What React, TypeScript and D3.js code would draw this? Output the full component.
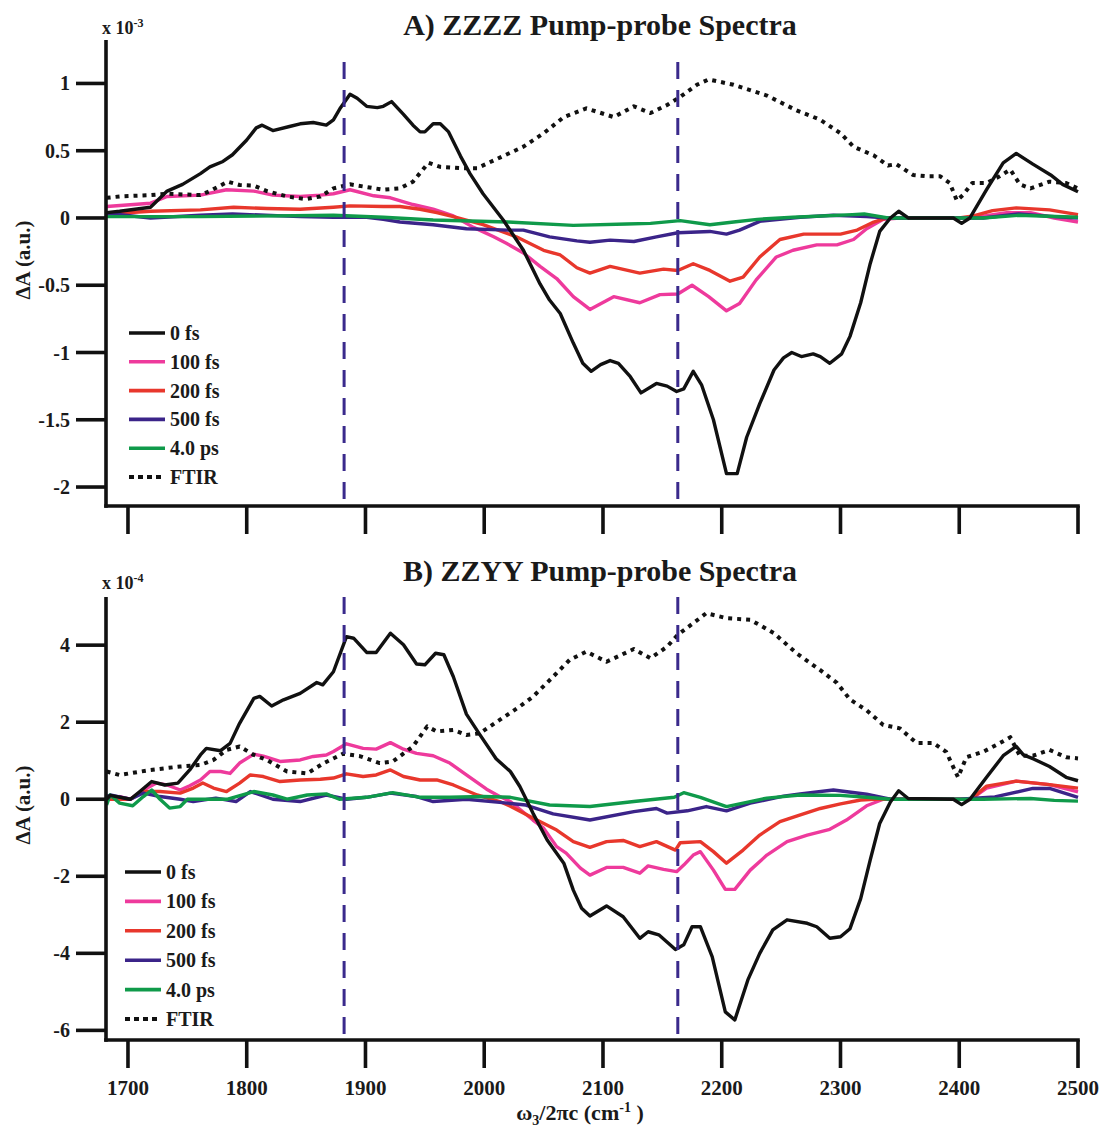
import React from 'react';
import * as d3 from 'd3';

type Pt = [number, number];

// ---- axis ticks and labels ----
const wavenumberTicks = [1700, 1800, 1900, 2000, 2100, 2200, 2300, 2400, 2500];
const zzzzTicks = [1, 0.5, 0, -0.5, -1, -1.5, -2];
const zzyyTicks = [4, 2, 0, -2, -4, -6];
const delayLabels = ['0 fs', '100 fs', '200 fs', '500 fs', '4.0 ps', 'FTIR'];
const seriesColors = ['#111111', '#ee3a9c', '#e8372c', '#3b2489', '#0f9a4a', '#111111'];
const markerFrequencies = [1882, 2163];

// ---- A) ZZZZ, units of 1e-3 ----
const zzzz0fs: Pt[] = [
  [1682, 0.04], [1693, 0.05], [1719, 0.08], [1733, 0.2], [1746, 0.25], [1761, 0.33], [1769, 0.38],
  [1780, 0.42], [1788, 0.47], [1800, 0.58], [1808, 0.67], [1813, 0.69], [1822, 0.65], [1836, 0.68],
  [1845, 0.7], [1856, 0.71], [1867, 0.69], [1873, 0.73], [1879, 0.82], [1887, 0.92], [1893, 0.89],
  [1901, 0.83], [1910, 0.82], [1915, 0.83], [1922, 0.865], [1932, 0.77], [1940, 0.69], [1946, 0.64],
  [1950, 0.64], [1957, 0.7], [1963, 0.7], [1970, 0.64], [1980, 0.46], [1988, 0.33], [1999, 0.18],
  [2016, -0.015], [2033, -0.24], [2047, -0.49], [2055, -0.61], [2064, -0.71], [2075, -0.93],
  [2083, -1.08], [2090, -1.14], [2098, -1.09], [2106, -1.06], [2113, -1.08], [2123, -1.18],
  [2132, -1.3], [2145, -1.23], [2154, -1.25], [2162, -1.29], [2168, -1.27], [2176, -1.14],
  [2183, -1.24], [2193, -1.5], [2204, -1.9], [2213, -1.9], [2221, -1.63], [2232, -1.38],
  [2244, -1.13], [2252, -1.04], [2259, -1.0], [2267, -1.03], [2277, -1.01], [2283, -1.03],
  [2291, -1.08], [2301, -1.01], [2308, -0.88], [2317, -0.63], [2325, -0.34], [2333, -0.1],
  [2342, 0.0], [2349, 0.05], [2357, 0.0], [2395, 0.0], [2402, -0.04], [2409, 0.0], [2423, 0.21],
  [2437, 0.41], [2448, 0.48], [2462, 0.4], [2477, 0.32], [2487, 0.25], [2500, 0.195],
];
const zzzz100fs: Pt[] = [
  [1682, 0.085], [1719, 0.11], [1733, 0.16], [1761, 0.17], [1783, 0.21], [1806, 0.2], [1822, 0.17],
  [1845, 0.16], [1862, 0.17], [1873, 0.18], [1887, 0.21], [1907, 0.165], [1921, 0.15], [1940, 0.1],
  [1957, 0.065], [1974, 0.015], [1991, -0.07], [2008, -0.14], [2019, -0.19], [2033, -0.26],
  [2047, -0.36], [2061, -0.45], [2075, -0.585], [2089, -0.68], [2109, -0.585], [2131, -0.63],
  [2148, -0.57], [2163, -0.565], [2175, -0.5], [2189, -0.585], [2204, -0.69], [2215, -0.635],
  [2229, -0.46], [2246, -0.29], [2260, -0.24], [2280, -0.2], [2297, -0.2], [2311, -0.16],
  [2322, -0.08], [2336, -0.01], [2350, 0.0], [2410, 0.0], [2440, 0.04], [2460, 0.04], [2480, 0.0],
  [2500, -0.03],
];
const zzzz200fs: Pt[] = [
  [1682, 0.03], [1719, 0.05], [1761, 0.06], [1789, 0.08], [1817, 0.07], [1845, 0.065], [1873, 0.08],
  [1887, 0.09], [1915, 0.085], [1929, 0.085], [1946, 0.065], [1960, 0.04], [1974, 0.01],
  [1999, -0.05], [2027, -0.14], [2050, -0.24], [2064, -0.275], [2078, -0.37], [2089, -0.41],
  [2106, -0.36], [2131, -0.41], [2151, -0.38], [2163, -0.39], [2176, -0.34], [2190, -0.39],
  [2207, -0.47], [2218, -0.44], [2232, -0.29], [2249, -0.16], [2269, -0.12], [2283, -0.12],
  [2300, -0.12], [2314, -0.09], [2328, -0.03], [2339, 0.0], [2400, 0.0], [2412, 0.015],
  [2428, 0.055], [2448, 0.075], [2476, 0.06], [2500, 0.025],
];
const zzzz500fs: Pt[] = [
  [1682, 0.035], [1719, 0.0], [1761, 0.02], [1788, 0.03], [1845, 0.01], [1873, 0.005], [1901, 0.005],
  [1915, -0.01], [1929, -0.03], [1957, -0.05], [1985, -0.08], [2020, -0.09], [2033, -0.09],
  [2055, -0.14], [2078, -0.17], [2089, -0.18], [2106, -0.165], [2126, -0.175], [2145, -0.14],
  [2163, -0.11], [2190, -0.1], [2204, -0.12], [2215, -0.09], [2232, -0.025], [2266, 0.005],
  [2294, 0.02], [2322, 0.01], [2340, 0.0], [2420, 0.0], [2450, 0.03], [2480, 0.01], [2500, 0.0],
];
const zzzz4ps: Pt[] = [
  [1682, 0.01], [1761, 0.01], [1873, 0.02], [1915, 0.005], [1957, -0.015], [2020, -0.03],
  [2075, -0.055], [2120, -0.045], [2140, -0.04], [2165, -0.02], [2190, -0.05], [2210, -0.03],
  [2230, -0.01], [2260, 0.005], [2310, 0.025], [2320, 0.03], [2340, 0.0], [2420, 0.0],
  [2450, 0.02], [2500, 0.005],
];
const zzzzFtir: Pt[] = [
  [1682, 0.15], [1693, 0.16], [1719, 0.17], [1733, 0.18], [1761, 0.17], [1769, 0.2], [1784, 0.27],
  [1794, 0.245], [1806, 0.24], [1817, 0.2], [1834, 0.16], [1850, 0.14], [1862, 0.16], [1873, 0.22],
  [1887, 0.25], [1901, 0.23], [1915, 0.21], [1929, 0.22], [1940, 0.27], [1953, 0.41], [1963, 0.38],
  [1980, 0.37], [1994, 0.37], [2011, 0.44], [2033, 0.53], [2050, 0.63], [2067, 0.75], [2086, 0.815],
  [2109, 0.75], [2126, 0.83], [2140, 0.78], [2154, 0.84], [2165, 0.9], [2179, 0.99], [2189, 1.03],
  [2210, 0.99], [2238, 0.91], [2263, 0.8], [2283, 0.73], [2300, 0.63], [2311, 0.53], [2328, 0.465],
  [2340, 0.39], [2347, 0.4], [2361, 0.32], [2373, 0.31], [2384, 0.31], [2392, 0.26], [2398, 0.13],
  [2403, 0.17], [2411, 0.26], [2423, 0.26], [2434, 0.31], [2443, 0.36], [2451, 0.25], [2460, 0.22],
  [2476, 0.27], [2490, 0.26], [2500, 0.22],
];

// ---- B) ZZYY, units of 1e-4 ----
const zzyy0fs: Pt[] = [
  [1682, 0.0], [1685, 0.1], [1702, 0.0], [1710, 0.2], [1720, 0.46], [1731, 0.37], [1742, 0.42],
  [1752, 0.76], [1761, 1.15], [1766, 1.32], [1778, 1.26], [1786, 1.45], [1794, 1.97], [1806, 2.62],
  [1811, 2.67], [1821, 2.42], [1831, 2.58], [1845, 2.75], [1859, 3.03], [1864, 2.97], [1873, 3.31],
  [1884, 4.22], [1890, 4.18], [1901, 3.81], [1909, 3.81], [1921, 4.31], [1932, 4.01], [1943, 3.51],
  [1950, 3.49], [1959, 3.79], [1966, 3.75], [1974, 3.18], [1985, 2.21], [1996, 1.69], [2010, 1.05],
  [2022, 0.72], [2030, 0.33], [2041, -0.36], [2053, -1.06], [2067, -1.66], [2075, -2.36],
  [2082, -2.83], [2089, -3.03], [2103, -2.77], [2117, -3.05], [2131, -3.61], [2138, -3.44],
  [2147, -3.52], [2161, -3.9], [2168, -3.78], [2175, -3.31], [2182, -3.31], [2192, -4.09],
  [2203, -5.52], [2211, -5.73], [2222, -4.69], [2232, -4.0], [2243, -3.39], [2255, -3.13],
  [2272, -3.22], [2280, -3.31], [2291, -3.61], [2300, -3.57], [2308, -3.36], [2317, -2.58],
  [2325, -1.58], [2333, -0.63], [2342, -0.07], [2349, 0.22], [2357, 0.02], [2395, 0.0],
  [2402, -0.14], [2409, 0.0], [2423, 0.57], [2437, 1.13], [2448, 1.37], [2454, 1.15], [2463, 1.04],
  [2476, 0.85], [2490, 0.57], [2500, 0.48],
];
const zzyy100fs: Pt[] = [
  [1682, 0.0], [1693, 0.07], [1702, 0.0], [1713, 0.24], [1724, 0.42], [1733, 0.37], [1744, 0.24],
  [1752, 0.35], [1761, 0.5], [1769, 0.72], [1778, 0.72], [1786, 0.67], [1794, 0.94], [1806, 1.17],
  [1814, 1.12], [1828, 0.98], [1845, 1.02], [1856, 1.11], [1867, 1.15], [1873, 1.24], [1884, 1.44],
  [1898, 1.32], [1909, 1.3], [1921, 1.47], [1932, 1.3], [1943, 1.19], [1957, 1.13], [1971, 0.94],
  [1985, 0.63], [2002, 0.26], [2013, 0.07], [2022, -0.06], [2041, -0.54], [2050, -0.75],
  [2061, -1.23], [2069, -1.4], [2081, -1.79], [2089, -1.97], [2103, -1.77], [2117, -1.77],
  [2131, -1.92], [2138, -1.73], [2151, -1.82], [2162, -1.88], [2168, -1.71], [2176, -1.45],
  [2182, -1.36], [2193, -1.84], [2203, -2.34], [2211, -2.34], [2224, -1.84], [2238, -1.45],
  [2255, -1.1], [2272, -0.93], [2291, -0.78], [2305, -0.54], [2322, -0.17], [2336, 0.0],
  [2410, 0.0], [2423, 0.29], [2448, 0.47], [2476, 0.38], [2500, 0.19],
];
const zzyy200fs: Pt[] = [
  [1682, 0.0], [1702, 0.0], [1713, 0.2], [1727, 0.2], [1744, 0.16], [1755, 0.29], [1763, 0.42],
  [1772, 0.29], [1783, 0.2], [1794, 0.42], [1803, 0.63], [1814, 0.59], [1828, 0.46], [1845, 0.5],
  [1862, 0.52], [1873, 0.55], [1884, 0.66], [1898, 0.59], [1909, 0.63], [1921, 0.76], [1932, 0.59],
  [1946, 0.5], [1960, 0.5], [1974, 0.37], [1994, 0.11], [2013, -0.06], [2022, -0.18], [2041, -0.49],
  [2061, -0.8], [2075, -1.1], [2089, -1.25], [2103, -1.1], [2117, -1.07], [2131, -1.23],
  [2145, -1.1], [2161, -1.32], [2165, -1.13], [2182, -1.1], [2193, -1.36], [2204, -1.66],
  [2218, -1.32], [2232, -0.93], [2249, -0.58], [2263, -0.44], [2283, -0.24], [2300, -0.12],
  [2317, -0.02], [2328, 0.0], [2410, 0.0], [2423, 0.34], [2448, 0.47], [2476, 0.38], [2500, 0.29],
];
const zzyy500fs: Pt[] = [
  [1682, 0.07], [1685, 0.11], [1702, 0.0], [1713, 0.16], [1727, 0.07], [1744, 0.0], [1755, -0.06],
  [1774, 0.03], [1791, -0.06], [1803, 0.2], [1822, 0.0], [1845, -0.06], [1867, 0.11], [1884, 0.0],
  [1901, 0.05], [1921, 0.16], [1943, 0.07], [1957, -0.06], [1985, 0.0], [2013, -0.08],
  [2035, -0.15], [2058, -0.38], [2089, -0.54], [2126, -0.32], [2145, -0.24], [2154, -0.36],
  [2171, -0.3], [2187, -0.19], [2204, -0.3], [2224, -0.1], [2252, 0.08], [2266, 0.14],
  [2294, 0.24], [2322, 0.13], [2342, 0.0], [2400, 0.0], [2430, 0.06], [2462, 0.28], [2476, 0.28],
  [2500, 0.05],
];
const zzyy4ps: Pt[] = [
  [1682, -0.15], [1685, 0.11], [1693, -0.1], [1704, -0.17], [1713, 0.07], [1720, 0.24], [1727, 0.0],
  [1735, -0.23], [1744, -0.19], [1750, 0.0], [1761, 0.0], [1784, 0.0], [1806, 0.2], [1822, 0.11],
  [1834, 0.0], [1851, 0.11], [1867, 0.14], [1878, 0.0], [1901, 0.05], [1923, 0.17], [1946, 0.05],
  [1971, 0.05], [1999, 0.07], [2022, 0.05], [2055, -0.15], [2089, -0.19], [2126, -0.06],
  [2160, 0.05], [2168, 0.17], [2182, 0.05], [2204, -0.19], [2218, -0.1], [2238, 0.03],
  [2266, 0.11], [2300, 0.1], [2322, 0.05], [2342, 0.0], [2420, 0.0], [2460, 0.02], [2480, -0.03],
  [2500, -0.05],
];
const zzyyFtir: Pt[] = [
  [1682, 0.72], [1693, 0.63], [1719, 0.76], [1744, 0.85], [1761, 0.89], [1772, 1.02], [1783, 1.28],
  [1794, 1.37], [1806, 1.15], [1817, 1.02], [1834, 0.72], [1851, 0.67], [1865, 0.94], [1881, 1.18],
  [1895, 1.12], [1912, 0.94], [1923, 0.98], [1940, 1.37], [1952, 1.89], [1960, 1.76], [1974, 1.8],
  [1985, 1.67], [1996, 1.71], [2013, 2.06], [2030, 2.41], [2041, 2.66], [2058, 3.18], [2072, 3.62],
  [2086, 3.83], [2103, 3.57], [2126, 3.9], [2140, 3.66], [2154, 3.96], [2163, 4.27], [2176, 4.57],
  [2187, 4.83], [2204, 4.7], [2224, 4.66], [2244, 4.31], [2263, 3.79], [2283, 3.35], [2297, 3.02],
  [2308, 2.59], [2322, 2.31], [2336, 1.93], [2350, 1.84], [2364, 1.46], [2378, 1.46], [2389, 1.23],
  [2399, 0.57], [2406, 1.09], [2420, 1.23], [2432, 1.42], [2443, 1.61], [2451, 1.13], [2462, 1.13],
  [2476, 1.28], [2490, 1.09], [2500, 1.06],
];

const FONT = '"Liberation Serif", "Times New Roman", serif';
const W = 1099;
const H = 1128;

interface PanelSpec {
  title: string;
  exponent: string;
  top: number;
  bottom: number;
  yDomain: [number, number];
  yTicks: number[];
  series: Pt[][];
  titleY: number;
  exponentY: number;
  legendX: number;
  legendY: number;
  legendStep: number;
  markerTop: number;
  yTitleCenter: number;
  showXLabels: boolean;
}

const panels: PanelSpec[] = [
  {
    title: 'A) ZZZZ Pump-probe Spectra',
    exponent: '-3',
    top: 40,
    bottom: 506,
    yDomain: [-2.141, 1.323],
    yTicks: zzzzTicks,
    series: [zzzz0fs, zzzz100fs, zzzz200fs, zzzz500fs, zzzz4ps, zzzzFtir],
    titleY: 35,
    exponentY: 34,
    legendX: 129,
    legendY: 333,
    legendStep: 28.8,
    markerTop: 1.16,
    yTitleCenter: 260,
    showXLabels: false,
  },
  {
    title: 'B) ZZYY Pump-probe Spectra',
    exponent: '-4',
    top: 597,
    bottom: 1040,
    yDomain: [-6.25, 5.25],
    yTicks: zzyyTicks,
    series: [zzyy0fs, zzyy100fs, zzyy200fs, zzyy500fs, zzyy4ps, zzyyFtir],
    titleY: 581,
    exponentY: 589,
    legendX: 125,
    legendY: 872,
    legendStep: 29.4,
    markerTop: 5.25,
    yTitleCenter: 805,
    showXLabels: true,
  },
];

const LEFT = 106;
const RIGHT = 1078;
const x = d3.scaleLinear().domain([1681.5, 2500]).range([LEFT, RIGHT]);

// draw order: colored delays first, then 0 fs and FTIR on top
const drawOrder = [1, 2, 3, 4, 0, 5];

function Panel({ p }: { p: PanelSpec }) {
  const y = d3.scaleLinear().domain(p.yDomain).range([p.bottom, p.top]);
  const line = d3
    .line<Pt>()
    .x((d) => x(d[0]))
    .y((d) => y(d[1]));
  const axisW = 3.6;
  return (
    <g>
      <text x={600} y={p.titleY} textAnchor="middle" fontFamily={FONT} fontWeight="bold" fontSize={30} fill="#1a1a1a">
        {p.title}
      </text>
      <text x={102} y={p.exponentY} fontFamily={FONT} fontWeight="bold" fontSize={18} fill="#1a1a1a">
        x 10
        <tspan fontSize={12} dy={-7}>{p.exponent}</tspan>
      </text>
      <text
        transform={`translate(30,${p.yTitleCenter}) rotate(-90)`}
        textAnchor="middle"
        fontFamily={FONT}
        fontWeight="bold"
        fontSize={21}
        fill="#1a1a1a"
      >
        ΔA (a.u.)
      </text>

      {drawOrder.map((i) => (
        <path
          key={i}
          d={line(p.series[i]) || ''}
          fill="none"
          stroke={seriesColors[i]}
          strokeWidth={i === 5 ? 4 : 3.4}
          strokeDasharray={i === 5 ? '4 5' : undefined}
          strokeLinejoin="round"
        />
      ))}

      {markerFrequencies.map((f) => (
        <line
          key={f}
          x1={x(f)}
          x2={x(f)}
          y1={y(p.markerTop)}
          y2={p.bottom}
          stroke="#3a2a8c"
          strokeWidth={3}
          strokeDasharray="17 11"
        />
      ))}

      {/* axes */}
      <line x1={LEFT} x2={LEFT} y1={p.top} y2={p.bottom + axisW / 2} stroke="#111" strokeWidth={axisW} />
      <line x1={LEFT - axisW / 2} x2={RIGHT + axisW / 2} y1={p.bottom} y2={p.bottom} stroke="#111" strokeWidth={axisW} />
      {p.yTicks.map((t) => (
        <g key={t}>
          <line x1={LEFT - 30} x2={LEFT} y1={y(t)} y2={y(t)} stroke="#111" strokeWidth={axisW} />
          <text
            x={70}
            y={y(t)}
            dy="0.35em"
            textAnchor="end"
            fontFamily={FONT}
            fontWeight="bold"
            fontSize={20}
            fill="#1a1a1a"
          >
            {t}
          </text>
        </g>
      ))}
      {wavenumberTicks.map((t) => (
        <g key={t}>
          <line x1={x(t)} x2={x(t)} y1={p.bottom} y2={p.bottom + 28} stroke="#111" strokeWidth={axisW} />
          {p.showXLabels && (
            <text
              x={x(t)}
              y={p.bottom + 55}
              textAnchor="middle"
              fontFamily={FONT}
              fontWeight="bold"
              fontSize={21}
              fill="#1a1a1a"
            >
              {t}
            </text>
          )}
        </g>
      ))}

      {/* legend */}
      {delayLabels.map((lab, i) => {
        const ly = p.legendY + i * p.legendStep;
        return (
          <g key={lab}>
            <line
              x1={p.legendX}
              x2={p.legendX + 36}
              y1={ly}
              y2={ly}
              stroke={seriesColors[i]}
              strokeWidth={i === 5 ? 4 : 3.6}
              strokeDasharray={i === 5 ? '5 4' : undefined}
            />
            <text
              x={p.legendX + 41}
              y={ly}
              dy="0.35em"
              fontFamily={FONT}
              fontWeight="bold"
              fontSize={20}
              fill="#1a1a1a"
            >
              {lab}
            </text>
          </g>
        );
      })}
    </g>
  );
}

export default function App() {
  return (
    <svg
      width={W}
      height={H}
      viewBox={`0 0 ${W} ${H}`}
      style={{ position: 'absolute', left: 0, top: 0, background: '#fff' }}
    >
      <rect width={W} height={H} fill="#fff" />
      {panels.map((p) => (
        <Panel key={p.title} p={p} />
      ))}
      <text x={580} y={1120} textAnchor="middle" fontFamily={FONT} fontWeight="bold" fontSize={22} fill="#1a1a1a">
        ω
        <tspan fontSize={14} dy={5}>3</tspan>
        <tspan dy={-5}>/2πc (cm</tspan>
        <tspan fontSize={14} dy={-8}>-1</tspan>
        <tspan dy={8}> )</tspan>
      </text>
    </svg>
  );
}
